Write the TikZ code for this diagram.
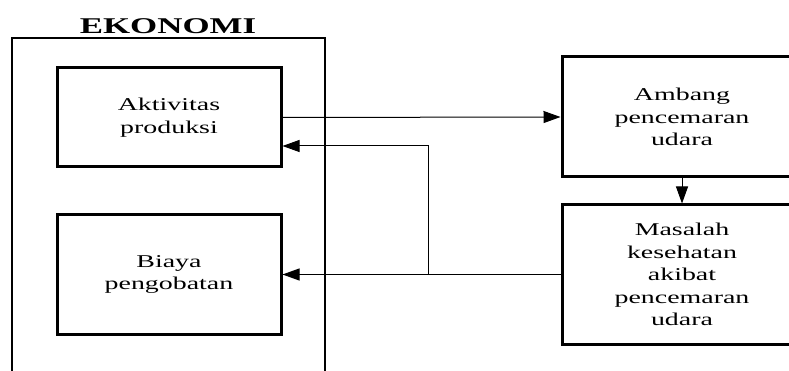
\documentclass[tikz,border=0pt]{standalone}
\usepackage{fontspec}
\setmainfont{Liberation Serif}[FakeStretch=1.55]
\usetikzlibrary{arrows.meta}

\begin{document}
\begin{tikzpicture}[x=1pt, y=-1pt, >={Triangle[length=17pt,width=12pt]},
  box/.style={draw, line width=3pt, align=center, inner sep=0pt,
    font=\fontsize{18}{22.5}\selectfont}]

\useasboundingbox (0,0) rectangle (789,371);
\clip (0,0) rectangle (789,371);

% outer frame
\node (eko) at (168,26) {\fontsize{22.5}{26}\selectfont\bfseries EKONOMI};
\draw[line width=1.4pt] (12,380) |- (325,38) -- (325,380);

\node[box, minimum width=224pt, minimum height=99pt] (akt) at (169,117.5)
  {Aktivitas\\produksi};
\node[box, minimum width=224pt, minimum height=119pt] (biaya) at (169,274.5)
  {Biaya\\pengobatan};

\node[box, minimum width=240pt, minimum height=120pt] (ambang) at (682,117)
  {Ambang\\pencemaran\\udara};
\node[box, minimum width=240pt, minimum height=139pt] (masalah) at (682,274.5)
  {Masalah\\kesehatan\\akibat\\pencemaran\\udara};

\coordinate (jb) at (428,274.5);
\coordinate (ja) at (428,146);

\draw[->, line width=1pt] (akt.east) -- (ambang.west);
\draw[->, line width=1pt] (ambang.south) -- (masalah.north);
\draw[->, line width=1pt] (masalah.west) -- (biaya.east);
\draw[->, line width=1pt] (jb) -- (ja) -- (ja -| akt.east);

\end{tikzpicture}
\end{document}
